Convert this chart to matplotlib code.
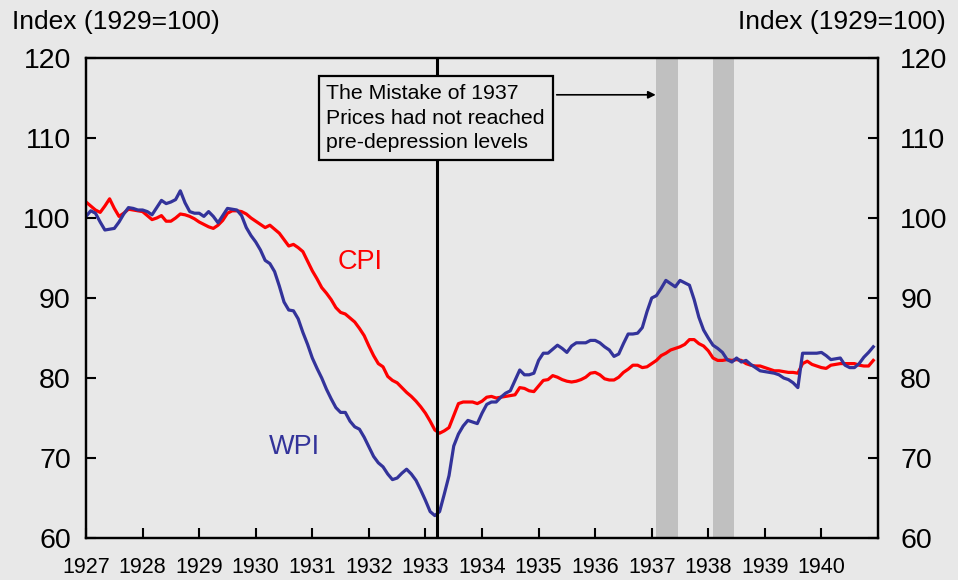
import numpy as np
import matplotlib
matplotlib.use("Agg")
from matplotlib import pyplot as plt

plt.rcParams['font.family'] = ['Liberation Sans', 'DejaVu Sans']

# monthly index values, Jan 1927 .. Dec 1940 (1929=100)
start_year = 1927
cpi = [
    102.0, 101.5, 101.0, 100.7, 101.5, 102.4, 101.2, 100.2, 100.6, 101.1, 101.0, 100.9,
    100.8, 100.3, 99.8, 100.0, 100.3, 99.6, 99.6, 100.0, 100.5, 100.4, 100.2, 99.9,
    99.5, 99.2, 98.9, 98.7, 99.1, 99.7, 100.6, 100.9, 100.9, 100.8, 100.5, 100.0,
    99.6, 99.2, 98.8, 99.1, 98.6, 98.1, 97.3, 96.5, 96.7, 96.3, 95.8, 94.6,
    93.4, 92.4, 91.3, 90.6, 89.8, 88.8, 88.2, 88.0, 87.5, 87.0, 86.2, 85.3,
    84.0, 82.8, 81.8, 81.4, 80.2, 79.7, 79.4, 78.8, 78.2, 77.7, 77.1, 76.4,
    75.6, 74.6, 73.5, 73.1, 73.4, 73.8, 75.3, 76.8, 77.0, 77.0, 77.0, 76.8,
    77.1, 77.6, 77.7, 77.5, 77.6, 77.7, 77.8, 77.9, 78.8, 78.7, 78.4, 78.3,
    79.0, 79.7, 79.8, 80.3, 80.1, 79.8, 79.6, 79.5, 79.6, 79.8, 80.1, 80.6,
    80.7, 80.4, 79.9, 79.75, 79.75, 80.1, 80.7, 81.1, 81.6, 81.6, 81.3, 81.4,
    81.8, 82.2, 82.8, 83.1, 83.5, 83.7, 83.9, 84.2, 84.8, 84.8, 84.3, 84.0,
    83.4, 82.5, 82.2, 82.2, 82.3, 82.2, 82.3, 82.2, 81.8, 81.6, 81.5, 81.5,
    81.3, 81.1, 80.9, 80.9, 80.8, 80.7, 80.7, 80.6, 81.8, 82.1, 81.7, 81.5,
    81.3, 81.2, 81.6, 81.7, 81.8, 81.8, 81.8, 81.8, 81.6, 81.5, 81.5, 82.2,
]
wpi = [
    100.2, 100.9, 100.6, 99.5, 98.5, 98.6, 98.7, 99.5, 100.5, 101.3, 101.2, 101.0,
    101.0, 100.8, 100.4, 101.3, 102.2, 101.8, 102.0, 102.3, 103.4, 101.9, 100.8, 100.6,
    100.6, 100.2, 100.8, 100.2, 99.4, 100.3, 101.2, 101.1, 101.0, 100.3, 98.8, 97.8,
    97.0, 96.0, 94.7, 94.3, 93.3, 91.5, 89.5, 88.5, 88.4, 87.4, 85.7, 84.2,
    82.5, 81.2, 80.0, 78.6, 77.4, 76.3, 75.7, 75.7, 74.6, 73.9, 73.6, 72.6,
    71.4, 70.2, 69.4, 68.9, 68.0, 67.3, 67.5, 68.1, 68.6, 68.0, 67.2, 66.0,
    64.7, 63.3, 62.8, 63.3, 65.5, 67.8, 71.5, 73.0, 74.0, 74.7, 74.5, 74.3,
    75.6, 76.7, 77.0, 77.0, 77.6, 78.1, 78.4, 79.7, 81.0, 80.4, 80.4, 80.6,
    82.2, 83.1, 83.1, 83.6, 84.1, 83.7, 83.2, 84.0, 84.4, 84.4, 84.4, 84.7,
    84.7, 84.4, 83.9, 83.5, 82.7, 83.0, 84.3, 85.5, 85.5, 85.6, 86.3, 88.3,
    90.0, 90.3, 91.2, 92.2, 91.8, 91.4, 92.2, 91.9, 91.6, 89.8, 87.6, 86.0,
    85.0, 84.1, 83.7, 83.2, 82.3, 82.0, 82.5, 82.0, 82.2, 81.7, 81.3, 80.9,
    80.8, 80.7, 80.6, 80.4, 80.0, 79.8, 79.4, 78.8, 83.1, 83.1, 83.1, 83.1,
    83.2, 82.8, 82.3, 82.4, 82.5, 81.6, 81.3, 81.3, 81.8, 82.6, 83.2, 83.9,
]
years = list(range(1927, 1941))
recessions = [(1937.08, 1937.46), (1938.08, 1938.45)]
mistake_date = 1933.21
note = "The Mistake of 1937\nPrices had not reached\npre-depression levels"

bg = '#e8e8e8'
fig = plt.figure(figsize=(9.58, 5.80), dpi=100, facecolor=bg)
ax = fig.add_axes([0.0898, 0.0724, 0.8267, 0.8276])
ax.set_facecolor(bg)

x = start_year + np.arange(len(cpi)) / 12

for a, b in recessions:
    ax.axvspan(a, b, color='#c0c0c0', lw=0, zorder=1)

ax.plot(x, cpi, color='#ff0000', lw=2.3, zorder=3)
ax.plot(x, wpi, color='#33339a', lw=2.3, zorder=3)
ax.axvline(mistake_date, color='black', lw=2.2, zorder=4)

ax.text(1931.85, 94.5, 'CPI', color='#ff0000', fontsize=19.5, ha='center', va='center')
ax.text(1930.68, 71.4, 'WPI', color='#33339a', fontsize=19.5, ha='center', va='center')

ax.text(1933.18, 112.5, note, fontsize=15.3, ha='center', va='center',
        multialignment='left', linespacing=1.38, zorder=6,
        bbox=dict(boxstyle='square,pad=0.36', fc=bg, ec='black', lw=1.6))
ax.annotate('', xy=(1937.07, 115.4), xytext=(1935.32, 115.4), zorder=6,
            arrowprops=dict(arrowstyle='-|>', color='black', lw=1.2,
                            mutation_scale=11, shrinkA=0, shrinkB=0))

ax.set_xlim(1927, 1941)
ax.set_ylim(60, 120)
ax.set_xticks(years)
ax.set_xticklabels([str(y) for y in years])
ax.set_yticks(range(60, 121, 10))
ax.tick_params(axis='x', direction='in', length=7, width=1.5, pad=14, labelsize=15.5)
ax.tick_params(axis='y', direction='in', length=7, width=1.5, pad=11, labelsize=20.5)
for s in ax.spines.values():
    s.set_linewidth(1.6)

ax2 = ax.twinx()
ax2.set_ylim(60, 120)
ax2.set_yticks(range(60, 121, 10))
ax2.tick_params(axis='y', direction='in', length=7, width=1.5, pad=16, labelsize=20.5)
for s in ax2.spines.values():
    s.set_linewidth(1.6)

fig.text(12 / 958, 1 - 22 / 580, 'Index (1929=100)', fontsize=19, ha='left', va='center')
fig.text(946 / 958, 1 - 22 / 580, 'Index (1929=100)', fontsize=19, ha='right', va='center')

fig.savefig('out.png', dpi=100, facecolor=bg)
